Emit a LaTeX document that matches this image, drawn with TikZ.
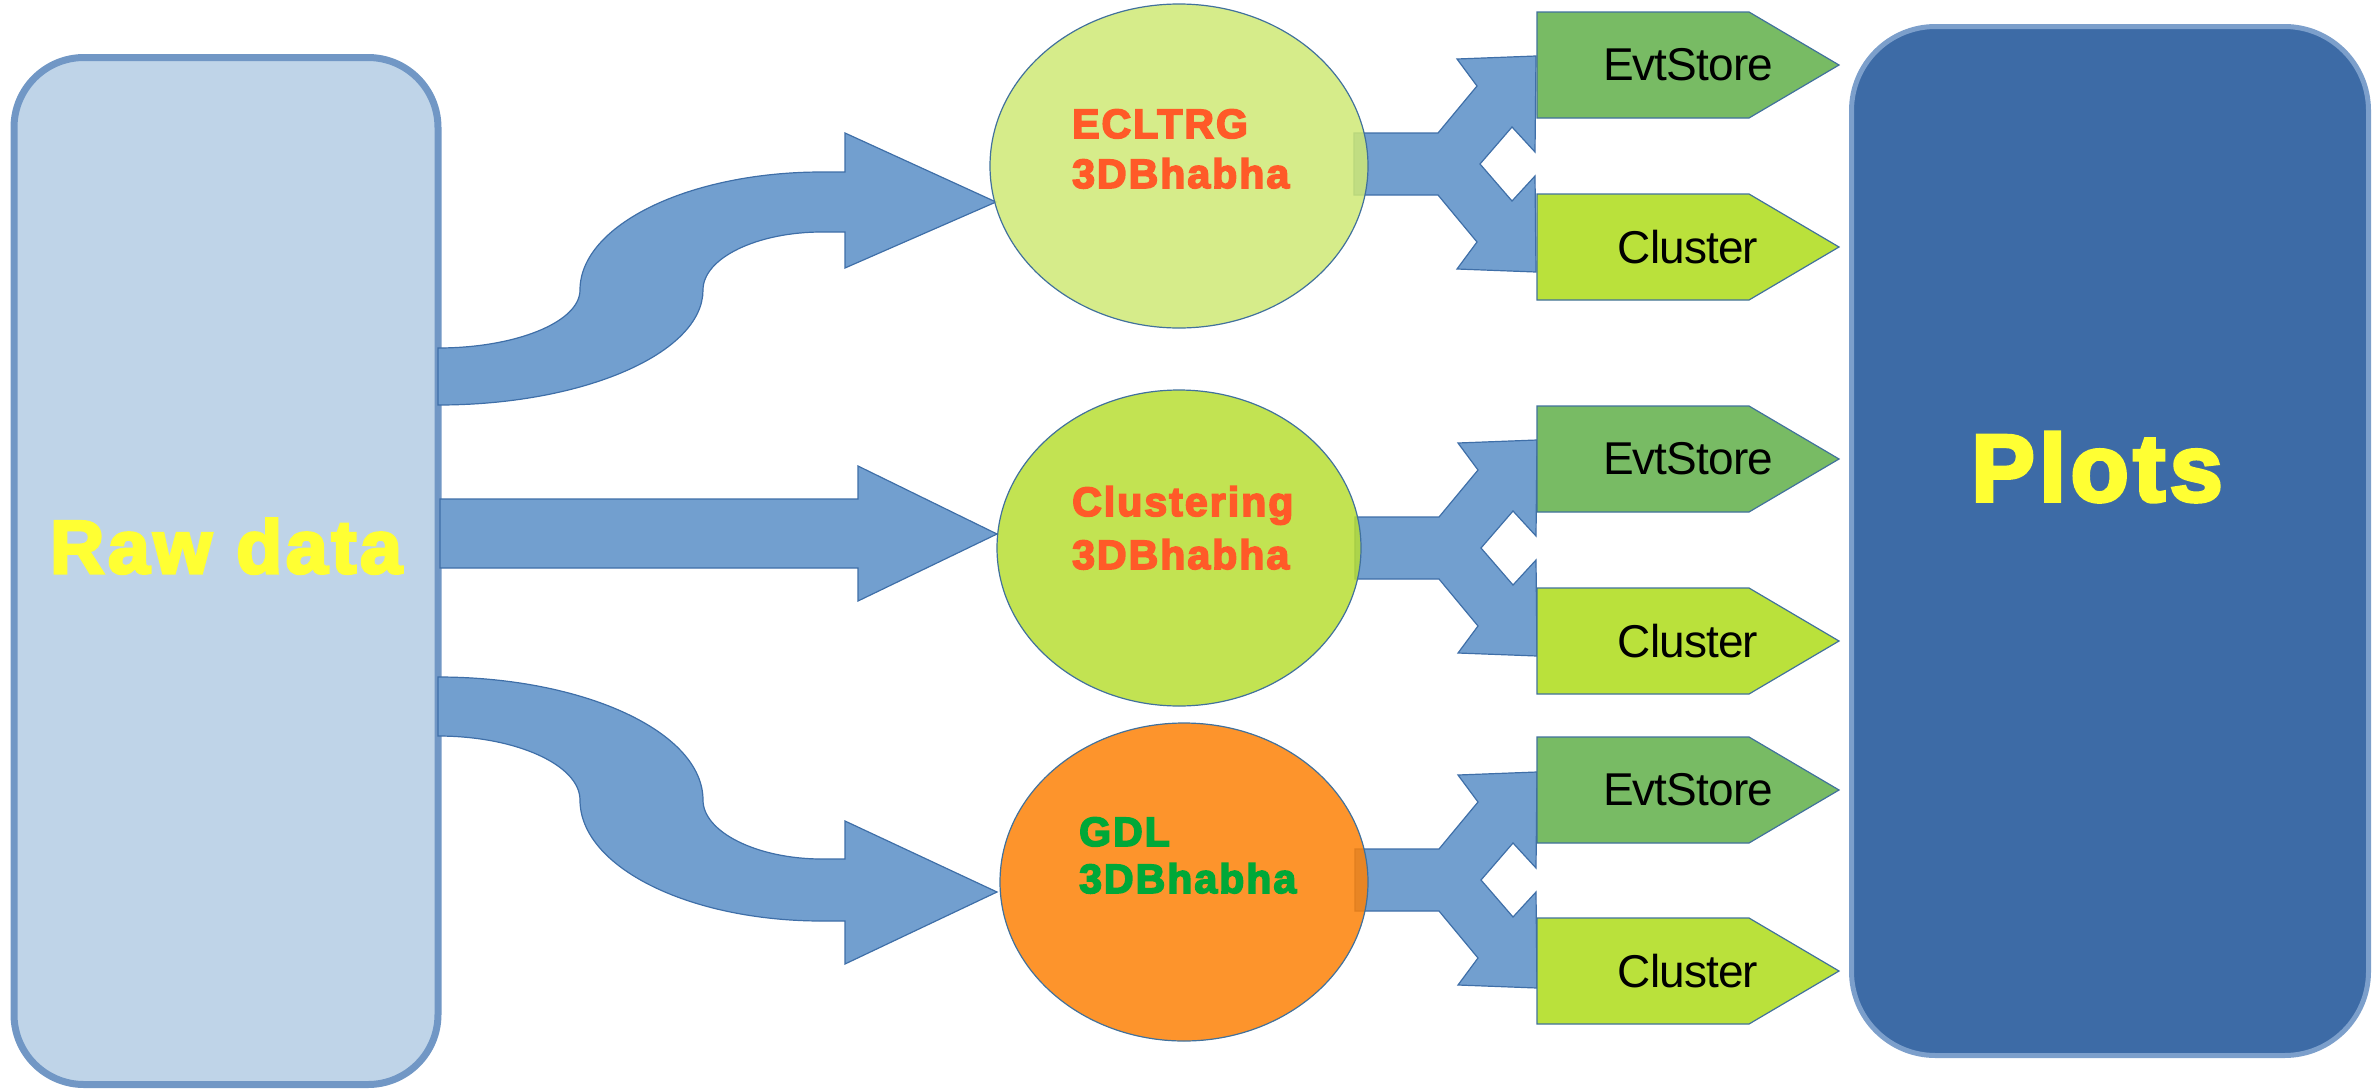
\documentclass[tikz,border=0pt]{standalone}
\usepackage{fontspec}
\setmainfont{Liberation Sans}
\newfontfamily\heavyfont{Liberation Sans Bold}[LetterSpace=5, FakeBold=4]
\newfontfamily\boxfont{Liberation Sans}[LetterSpace=-2]
\usetikzlibrary{shapes.geometric, shapes.symbols}

\definecolor{rawfill}{HTML}{BFD4E8}
\definecolor{rawedge}{HTML}{7197C5}
\definecolor{plotfill}{HTML}{3D6BA6}
\definecolor{plotedge}{HTML}{7C9FCB}
\definecolor{arrowfill}{HTML}{729FCF}
\definecolor{arrowedge}{HTML}{3F6FA8}
\definecolor{ellA}{HTML}{CFE975}
\definecolor{ellB}{HTML}{B7DE34}
\definecolor{ellC}{HTML}{FD8107}
\definecolor{elledge}{HTML}{41719C}
\definecolor{evtfill}{HTML}{78BB64}
\definecolor{clufill}{HTML}{BAE13B}
\definecolor{redtext}{HTML}{FF5A28}
\definecolor{greentext}{HTML}{00A838}
\definecolor{sunyellow}{HTML}{FFFF33}

\begin{document}
\begin{tikzpicture}[
    x=1pt, y=-1pt,
    rawbox/.style={draw=rawedge, line width=7pt, fill=rawfill, rounded corners=70pt,
        minimum width=424pt, minimum height=1027pt, inner sep=0pt},
    plotbox/.style={draw=plotedge, line width=5pt, fill=plotfill, rounded corners=84pt,
        minimum width=517pt, minimum height=1029pt, inner sep=0pt},
    bigtext/.style={font=\heavyfont\fontsize{75pt}{80pt}\selectfont, text=sunyellow, inner sep=0pt},
    blockarrow/.style={draw=arrowedge, line width=1.2pt, fill=arrowfill, line join=miter},
    stage/.style={ellipse, draw=elledge, line width=1.2pt, inner sep=0pt,
        fill opacity=0.85, text opacity=1},
    stagetext/.style={font=\heavyfont\fontsize{41pt}{46pt}\selectfont, inner sep=0pt, anchor=base west},
    outtext/.style={font=\boxfont\fontsize{46pt}{50pt}\selectfont, inner sep=0pt, xshift=45pt},
    output/.style={signal, signal to=east, signal pointer angle=61, draw=elledge, line width=1.2pt,
        minimum width=302pt, minimum height=106pt, inner sep=0pt},
    evt/.style={output, fill=evtfill, label={[outtext]center:EvtStore}},
    clu/.style={output, fill=clufill, label={[outtext]center:Cluster}},
    splitarr/.pic={
        \draw[blockarrow] (0,-31) -- (84,-31) -- (123,-78) -- (103,-105) -- (182,-108)
            -- (181,-12) -- (158,-37) -- (126,0) -- (158,37) -- (181,12) -- (182,108)
            -- (103,105) -- (123,78) -- (84,31) -- (0,31) -- cycle;
    }
]
    \useasboundingbox (0,0) rectangle (2380,1090);

    % input and result boxes
    \node[rawbox] (raw) at (226,571) {};
    \node[bigtext, anchor=base] (rawtxt) at (226,573) {Raw data};
    \node[plotbox] (plots) at (2110,541) {};
    \node[bigtext, anchor=base, font=\heavyfont\fontsize{95pt}{100pt}\selectfont] (plotstxt) at (2097,501) {Plots};

    % arrows raw data -> stages
    \draw[blockarrow] (438,348) .. controls (516,348) and (580,322) .. (580,290)
        .. controls (580,225) and (689,172) .. (822,172)
        -- (845,172) -- (845,133) -- (996,202) -- (845,268) -- (845,232) -- (822,232)
        .. controls (757,232) and (703,258) .. (703,290)
        .. controls (703,353) and (584,405) .. (438,405) -- cycle;
    \draw[blockarrow] (440,499) -- (858,499) -- (858,466) -- (997,534)
        -- (858,601) -- (858,568) -- (440,568) -- cycle;
    \draw[blockarrow] (438,677) .. controls (584,677) and (703,732) .. (703,800)
        .. controls (703,832) and (757,859) .. (822,859)
        -- (845,859) -- (845,821) -- (997,892) -- (845,964) -- (845,921) -- (822,921)
        .. controls (689,921) and (580,867) .. (580,800)
        .. controls (580,765) and (516,736) .. (438,736) -- cycle;

    % splitting arrows
    \pic at (1354,164) {splitarr};
    \pic at (1355,548) {splitarr};
    \pic at (1355,880) {splitarr};

    % stages
    \node[stage, fill=ellA, minimum width=378pt, minimum height=324pt] (ecl) at (1179,166) {};
    \node[stage, fill=ellB, minimum width=364pt, minimum height=316pt] (clus) at (1179,548) {};
    \node[stage, fill=ellC, minimum width=368pt, minimum height=318pt] (gdl) at (1184,882) {};
    \node[stagetext, text=redtext] (ecla) at (1072,138) {ECLTRG};
    \node[stagetext, text=redtext] (eclb) at (1072,188) {3DBhabha};
    \node[stagetext, text=redtext] (clusa) at (1072,516) {Clustering};
    \node[stagetext, text=redtext] (clusb) at (1072,569) {3DBhabha};
    \node[stagetext, text=greentext] (gdla) at (1079,846) {GDL};
    \node[stagetext, text=greentext] (gdlb) at (1079,893) {3DBhabha};

    % outputs
    \node[evt] (evt1) at (1643,65) {};
    \node[clu] (clu1) at (1643,247) {};
    \node[evt] (evt2) at (1643,459) {};
    \node[clu] (clu2) at (1643,641) {};
    \node[evt] (evt3) at (1643,790) {};
    \node[clu] (clu3) at (1643,971) {};
\end{tikzpicture}
\end{document}
